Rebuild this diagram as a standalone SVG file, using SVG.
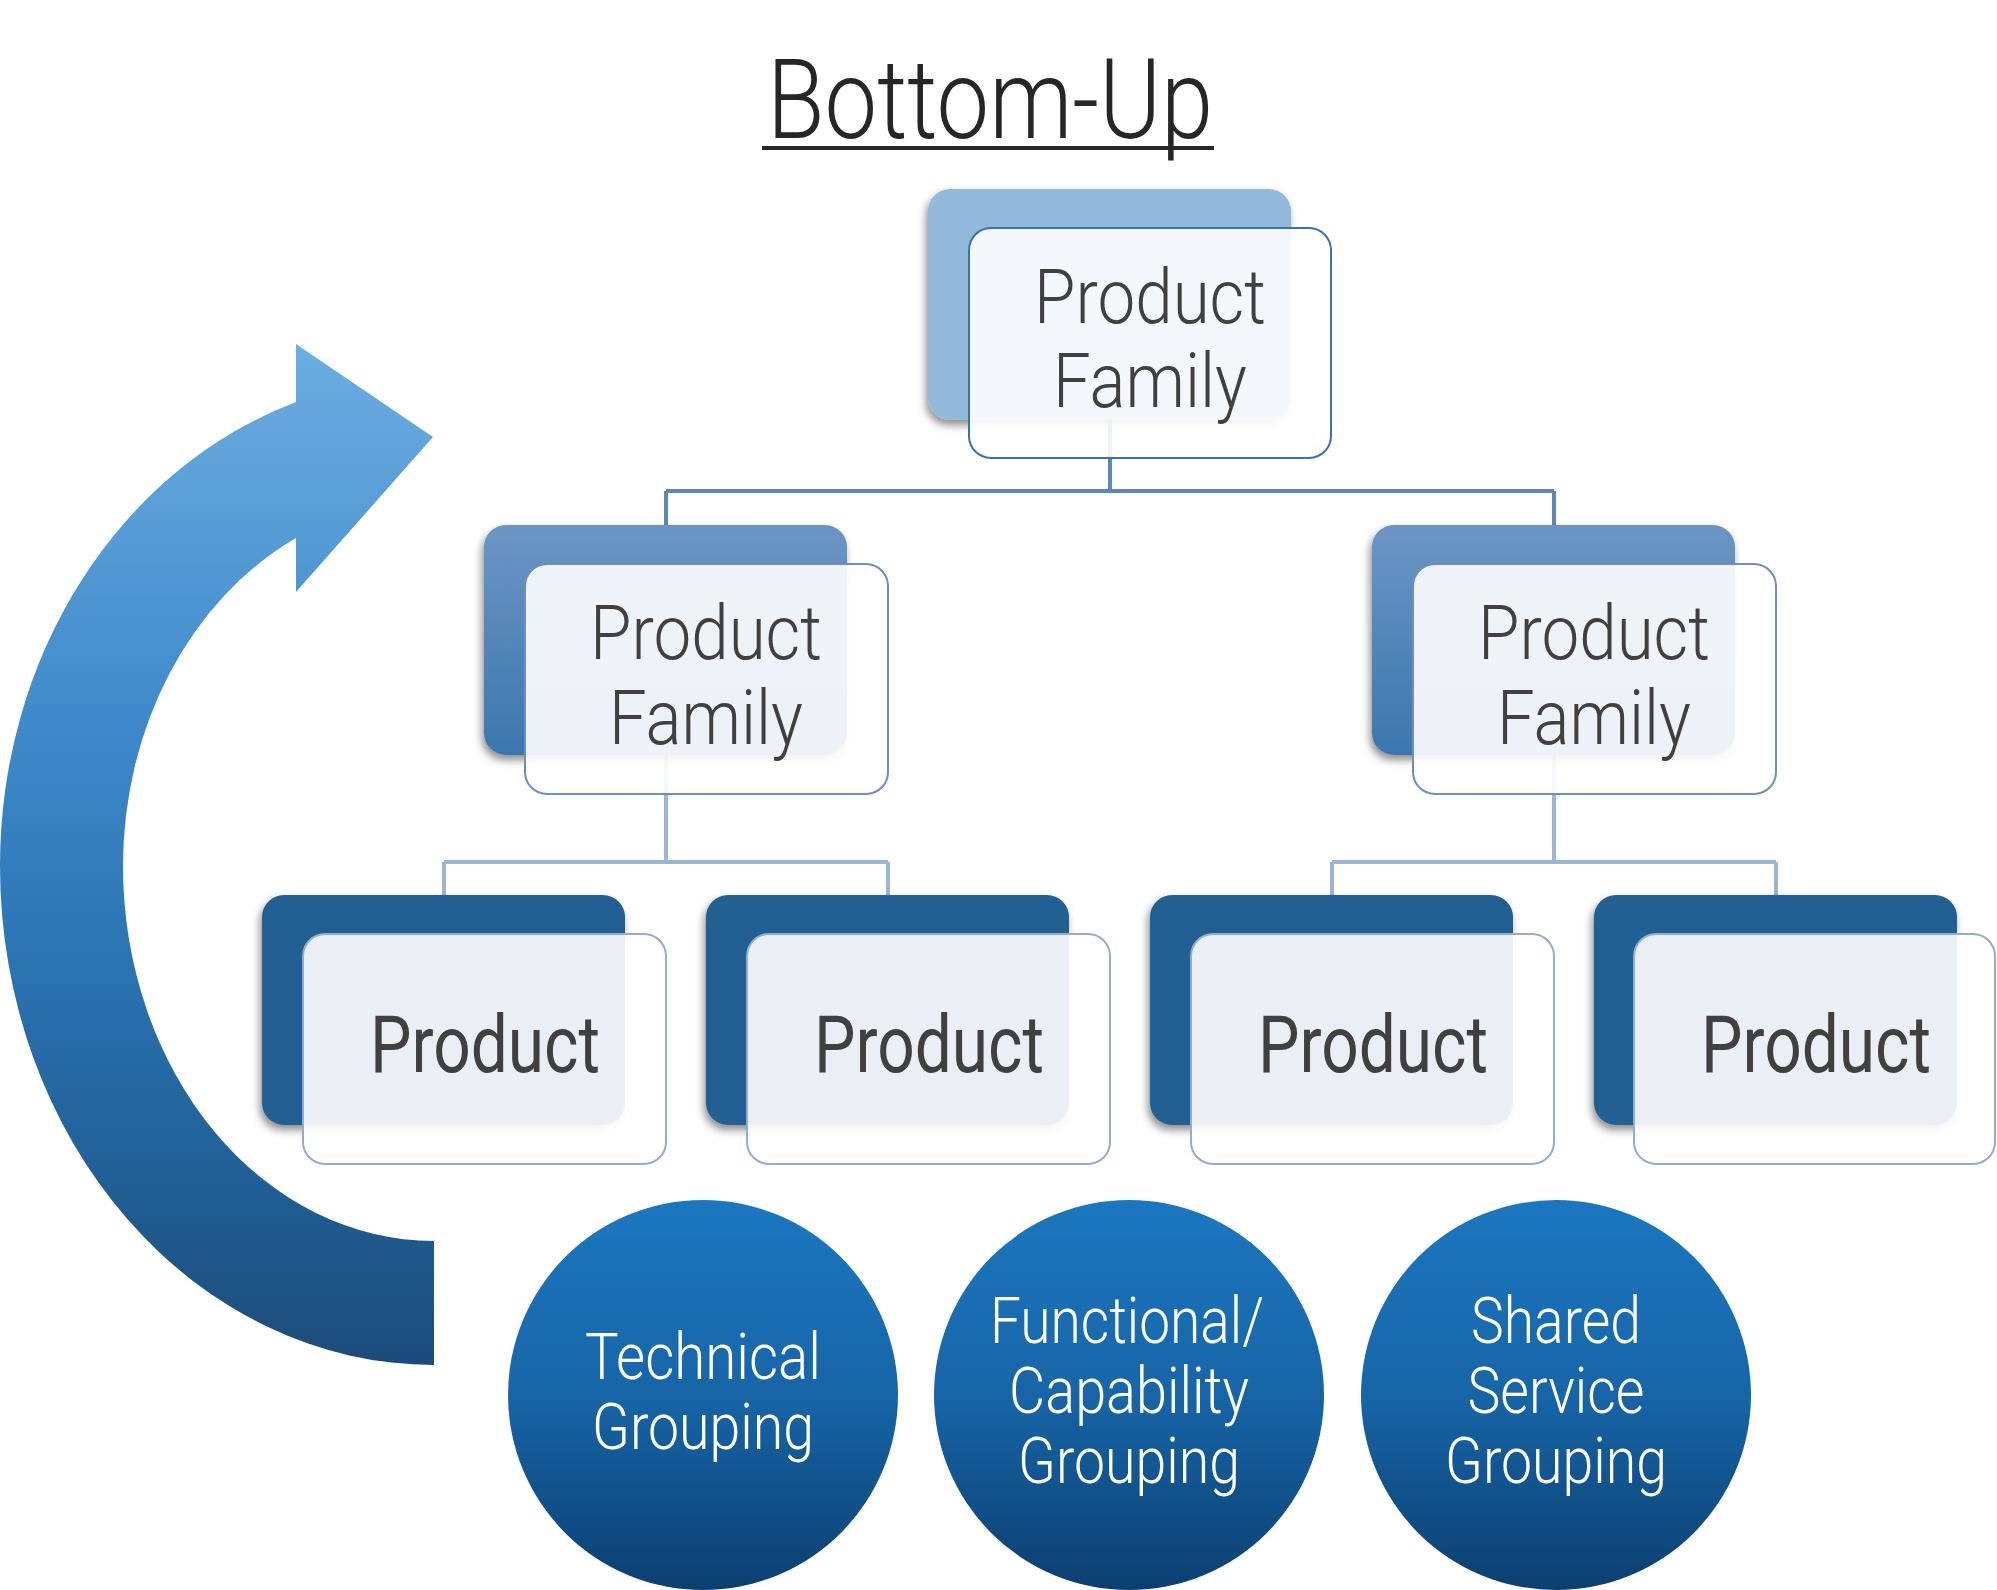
<svg xmlns="http://www.w3.org/2000/svg" width="1997" height="1590" viewBox="0 0 1997 1590">
<style>
.title{font-family:Roboto,"Liberation Sans",sans-serif;font-weight:300;font-size:112px;fill:#262626}
.fam{font-family:Roboto,"Liberation Sans",sans-serif;font-weight:300;font-size:76px;fill:#404040}
.prod{font-family:Roboto,"Liberation Sans",sans-serif;font-weight:400;font-size:80px;fill:#404040}
.circ{font-family:Roboto,"Liberation Sans",sans-serif;font-weight:300;font-size:65px;fill:#ffffff}
.front{fill:#ffffff;fill-opacity:0.9;stroke-width:2}
.c1{stroke:#5B87BC;stroke-width:4;fill:none}
.c2{stroke:#9CB4D6;stroke-width:4;fill:none}
</style>
<defs>
<linearGradient id="arrowG" gradientUnits="userSpaceOnUse" x1="0" y1="344" x2="0" y2="1365">
<stop offset="0" stop-color="#6DADE1"/>
<stop offset="0.38" stop-color="#3D89C9"/>
<stop offset="0.62" stop-color="#2A72B0"/>
<stop offset="0.82" stop-color="#205F95"/>
<stop offset="1" stop-color="#1C4B79"/>
</linearGradient>
<linearGradient id="circG" x1="0" y1="0" x2="0" y2="1">
<stop offset="0" stop-color="#1C77C0"/>
<stop offset="0.5" stop-color="#1765A7"/>
<stop offset="1" stop-color="#0B3F70"/>
</linearGradient>
<linearGradient id="l2G" x1="0" y1="0" x2="0" y2="1">
<stop offset="0" stop-color="#6C95C3"/>
<stop offset="1" stop-color="#3B77AD"/>
</linearGradient>
<filter id="sh" x="-10%" y="-10%" width="120%" height="130%">
<feDropShadow dx="-2" dy="5" stdDeviation="4" flood-color="#000" flood-opacity="0.45"/>
</filter>
</defs>

<g id="title">
<text class="title" x="990" y="138" text-anchor="middle" textLength="446" lengthAdjust="spacingAndGlyphs">Bottom-Up</text>
<line x1="762" y1="148" x2="1214" y2="148" stroke="#262626" stroke-width="4"/>
</g>

<g id="cycle-arrow">
<path d="M 434 1365 A 434 499 0 0 1 0 866 A 434 489 0 0 1 296 402 L 296 344 L 433 437 L 296 592 L 296 538 A 311 366 0 0 0 123 866 A 311 375 0 0 0 434 1241 Z" fill="url(#arrowG)"/>
</g>

<g id="connectors">
<path class="c1" d="M1110 420 V491 M666 491 H1554 M666 491 V525 M1554 491 V525"/>
<path class="c2" d="M666 755 V862 M444 862 H888 M444 862 V895 M888 862 V895"/>
<path class="c2" d="M1554 755 V862 M1332 862 H1776 M1332 862 V895 M1776 862 V895"/>
</g>

<g id="family-top">
<rect x="928" y="189" width="363" height="231" rx="22" fill="#93B9DA" filter="url(#sh)"/>
<rect class="front" x="969" y="228" width="362" height="230" rx="22" stroke="#3D71AA"/>
<text class="fam" x="1150" y="323" text-anchor="middle" textLength="232" lengthAdjust="spacingAndGlyphs">Product</text>
<text class="fam" x="1150" y="407" text-anchor="middle" textLength="194" lengthAdjust="spacingAndGlyphs">Family</text>
</g>

<g id="family-left">
<rect x="484" y="525" width="363" height="230" rx="22" fill="url(#l2G)" filter="url(#sh)"/>
<rect class="front" x="525" y="564" width="363" height="230" rx="22" stroke="#6D8EBE"/>
<text class="fam" x="706" y="659" text-anchor="middle" textLength="232" lengthAdjust="spacingAndGlyphs">Product</text>
<text class="fam" x="706" y="744" text-anchor="middle" textLength="194" lengthAdjust="spacingAndGlyphs">Family</text>
</g>

<g id="family-right">
<rect x="1372" y="525" width="363" height="230" rx="22" fill="url(#l2G)" filter="url(#sh)"/>
<rect class="front" x="1413" y="564" width="363" height="230" rx="22" stroke="#6D8EBE"/>
<text class="fam" x="1594" y="659" text-anchor="middle" textLength="232" lengthAdjust="spacingAndGlyphs">Product</text>
<text class="fam" x="1594" y="744" text-anchor="middle" textLength="194" lengthAdjust="spacingAndGlyphs">Family</text>
</g>

<g id="product-1">
<rect x="262" y="895" width="363" height="230" rx="22" fill="#205E92" filter="url(#sh)"/>
<rect class="front" x="303" y="934" width="363" height="230" rx="22" stroke="#93ACD0"/>
<text class="prod" x="485" y="1072" text-anchor="middle" textLength="230" lengthAdjust="spacingAndGlyphs">Product</text>
</g>
<g id="product-2">
<rect x="706" y="895" width="363" height="230" rx="22" fill="#205E92" filter="url(#sh)"/>
<rect class="front" x="747" y="934" width="363" height="230" rx="22" stroke="#93ACD0"/>
<text class="prod" x="929" y="1072" text-anchor="middle" textLength="230" lengthAdjust="spacingAndGlyphs">Product</text>
</g>
<g id="product-3">
<rect x="1150" y="895" width="363" height="230" rx="22" fill="#205E92" filter="url(#sh)"/>
<rect class="front" x="1191" y="934" width="363" height="230" rx="22" stroke="#93ACD0"/>
<text class="prod" x="1373" y="1072" text-anchor="middle" textLength="230" lengthAdjust="spacingAndGlyphs">Product</text>
</g>
<g id="product-4">
<rect x="1594" y="895" width="363" height="230" rx="22" fill="#205E92" filter="url(#sh)"/>
<rect class="front" x="1634" y="934" width="361" height="230" rx="22" stroke="#93ACD0"/>
<text class="prod" x="1816" y="1072" text-anchor="middle" textLength="230" lengthAdjust="spacingAndGlyphs">Product</text>
</g>

<g id="grouping-technical">
<circle cx="703" cy="1395" r="195" fill="url(#circG)"/>
<text class="circ" x="703" y="1379" text-anchor="middle" textLength="236" lengthAdjust="spacingAndGlyphs">Technical</text>
<text class="circ" x="703" y="1449" text-anchor="middle" textLength="222" lengthAdjust="spacingAndGlyphs">Grouping</text>
</g>
<g id="grouping-functional">
<circle cx="1129" cy="1395" r="195" fill="url(#circG)"/>
<text class="circ" x="1127" y="1343" text-anchor="middle" textLength="274" lengthAdjust="spacingAndGlyphs">Functional/</text>
<text class="circ" x="1129" y="1413" text-anchor="middle" textLength="240" lengthAdjust="spacingAndGlyphs">Capability</text>
<text class="circ" x="1129" y="1483" text-anchor="middle" textLength="222" lengthAdjust="spacingAndGlyphs">Grouping</text>
</g>
<g id="grouping-shared">
<circle cx="1556" cy="1395" r="195" fill="url(#circG)"/>
<text class="circ" x="1556" y="1343" text-anchor="middle" textLength="170" lengthAdjust="spacingAndGlyphs">Shared</text>
<text class="circ" x="1556" y="1413" text-anchor="middle" textLength="177" lengthAdjust="spacingAndGlyphs">Service</text>
<text class="circ" x="1556" y="1483" text-anchor="middle" textLength="222" lengthAdjust="spacingAndGlyphs">Grouping</text>
</g>
</svg>
